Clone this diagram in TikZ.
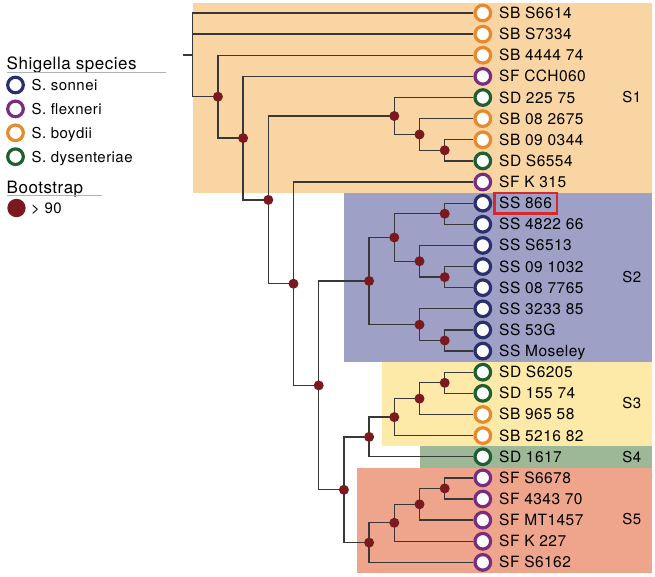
\documentclass[tikz,border=0pt]{standalone}
\usepackage{fontspec}
\setmainfont{TeX Gyre Heros}[LetterSpace=3]
\definecolor{son}{HTML}{2B2F6E}
\definecolor{flex}{HTML}{7A2C80}
\definecolor{boy}{HTML}{E8892E}
\definecolor{dys}{HTML}{1E5E2F}
\definecolor{dotred}{HTML}{7A1A20}
\definecolor{boxred}{HTML}{D6282E}
\definecolor{cladeone}{HTML}{F8D5A2}
\definecolor{cladetwo}{HTML}{9EA0C6}
\definecolor{cladethree}{HTML}{FDE9A8}
\definecolor{cladefour}{HTML}{9DB897}
\definecolor{cladefive}{HTML}{EEA58B}
\pgfdeclarelayer{bg}
\pgfsetlayers{bg,main}
\tikzset{
  branch/.style={draw=black!78, line width=1.3pt},
  boot/.style={circle, fill=dotred, inner sep=0pt, minimum size=10pt},
  strain/.style={circle, draw=#1, line width=3.2pt, fill=white, inner sep=0pt, minimum size=15.6pt},
  leaflab/.style={anchor=west, inner sep=0pt, text height=11pt, text depth=0pt, font=\fontsize{15.5}{18}\selectfont},
  keylab/.style={anchor=west, inner sep=0pt, text height=10.8pt, text depth=0pt, font=\fontsize{15}{18}\selectfont},
  head/.style={anchor=west, inner sep=0pt, text height=12pt, text depth=0pt, font=\fontsize{17}{20}\selectfont},
  cladelab/.style={inner sep=0pt, text height=10.8pt, text depth=0pt, font=\fontsize{15}{18}\selectfont},
  rule/.style={draw=black!30, line width=1.2pt}
}
\begin{document}
\begin{tikzpicture}[x=1pt, y=-1pt]
\useasboundingbox (0,0) rectangle (655,576);

% strains
\foreach \lab/\col [count=\i from 0] in {SB S6614/boy, SB S7334/boy, SB 4444 74/boy,
  SF CCH060/flex, SD 225 75/dys, SB 08 2675/boy, SB 09 0344/boy, SD S6554/dys,
  SF K 315/flex, SS 866/son, SS 4822 66/son, SS S6513/son, SS 09 1032/son,
  SS 08 7765/son, SS 3233 85/son, SS 53G/son, SS Moseley/son, SD S6205/dys,
  SD 155 74/dys, SB 965 58/boy, SB 5216 82/boy, SD 1617/dys, SF S6678/flex,
  SF 4343 70/flex, SF MT1457/flex, SF K 227/flex, SF S6162/flex} {
  \node[strain=\col] (c\i) at (482.8, {13+21.13*\i}) {};
  \node[leaflab] (t\i) at (499, {13+21.13*\i}) {\lab};
}
\draw[draw=boxred, line width=2.4pt] (494.3,192.9) rectangle (556.7,213.3);

% internal nodes
\coordinate (stub) at (183,54.9);
\coordinate (root) at (192.7,54.9);
\coordinate (A) at (217.9,96.7);
\coordinate (B) at (243.1,138.1);
\coordinate (C) at (268.3,199.9);
\coordinate (H) at (293.5,283.7);
\coordinate (I) at (318.7,385.4);
\coordinate (K) at (343.9,489.8);
\coordinate (J) at (369.1,281.0);
\coordinate (R) at (369.1,436.9);
\coordinate (S) at (369.1,542.6);
\coordinate (D) at (394.3,116.0);
\coordinate (L) at (394.3,237.5);
\coordinate (T) at (394.3,417.1);
\coordinate (W) at (394.3,522.8);
\coordinate (E) at (419.5,134.5);
\coordinate (O) at (419.5,261.2);
\coordinate (M) at (419.5,324.7);
\coordinate (U) at (419.5,398.6);
\coordinate (X) at (419.5,504.3);
\coordinate (F) at (444.7,150.3);
\coordinate (N) at (444.7,213.7);
\coordinate (P) at (444.7,277.1);
\coordinate (Q) at (444.7,340.5);
\coordinate (V) at (444.7,382.8);
\coordinate (Y) at (444.7,488.4);

\begin{pgfonlayer}{bg}
\fill[cladeone] (192.7,2.7) rectangle (652,192.7);
\fill[cladetwo] (344.3,192.7) rectangle (652,361.7);
\fill[cladethree] (382.3,361.7) rectangle (652,446);
\fill[cladefour] (420,446) rectangle (652,467.7);
\fill[cladefive] (357.3,467.7) rectangle (652,572.7);
\draw[branch] (stub) -- (root);
\foreach \p/\c in {root/c0, root/c1, root/A, A/c2, A/B, B/c3, B/C, C/D, C/H,
  D/c4, D/E, E/c5, E/F, F/c6, F/c7, H/c8, H/I, I/J, I/K, J/L, J/M, L/N, L/O,
  N/c9, N/c10, O/c11, O/P, P/c12, P/c13, M/c14, M/Q, Q/c15, Q/c16, K/R, K/S,
  R/T, R/c21, T/U, T/c20, U/V, U/c19, V/c17, V/c18, S/W, S/c26, W/X, W/c25,
  X/Y, X/c24, Y/c22, Y/c23}
  \draw[branch] (\p) |- (\c);
\end{pgfonlayer}
\foreach \n in {A,B,C,H,I,K,J,R,S,D,L,T,W,E,O,M,U,X,F,N,P,Q,V,Y}
  \node[boot] (d\n) at (\n) {};

% clades
\node[cladelab] (lab1) at (631.7,97) {S1};
\node[cladelab] (lab2) at (631.7,276.7) {S2};
\node[cladelab] (lab3) at (631.7,403) {S3};
\node[cladelab] (lab4) at (631.7,457) {S4};
\node[cladelab] (lab5) at (631.7,519) {S5};

% legend
\node[head] (spechead) at (6.5,63.8) {Shigella species};
\draw[rule] (7,72.3) -- (165.7,72.3);
\foreach \lab/\col [count=\k from 0] in {S. sonnei/son, S. flexneri/flex, S. boydii/boy, S. dysenteriae/dys} {
  \node[strain=\col] (key\k) at (15.5, {85+23.9*\k}) {};
  \node[keylab] (keytext\k) at (31.5, {85.5+23.9*\k}) {\lab};
}
\node[head] (boothead) at (6.5,187.2) {Bootstrap};
\draw[rule] (7,195.7) -- (102,195.7);
\node[circle, fill=dotred, inner sep=0pt, minimum size=18.4pt] (bootkey) at (16.5,208) {};
\node[keylab] (boottext) at (31,208) {> 90};
\end{tikzpicture}
\end{document}
